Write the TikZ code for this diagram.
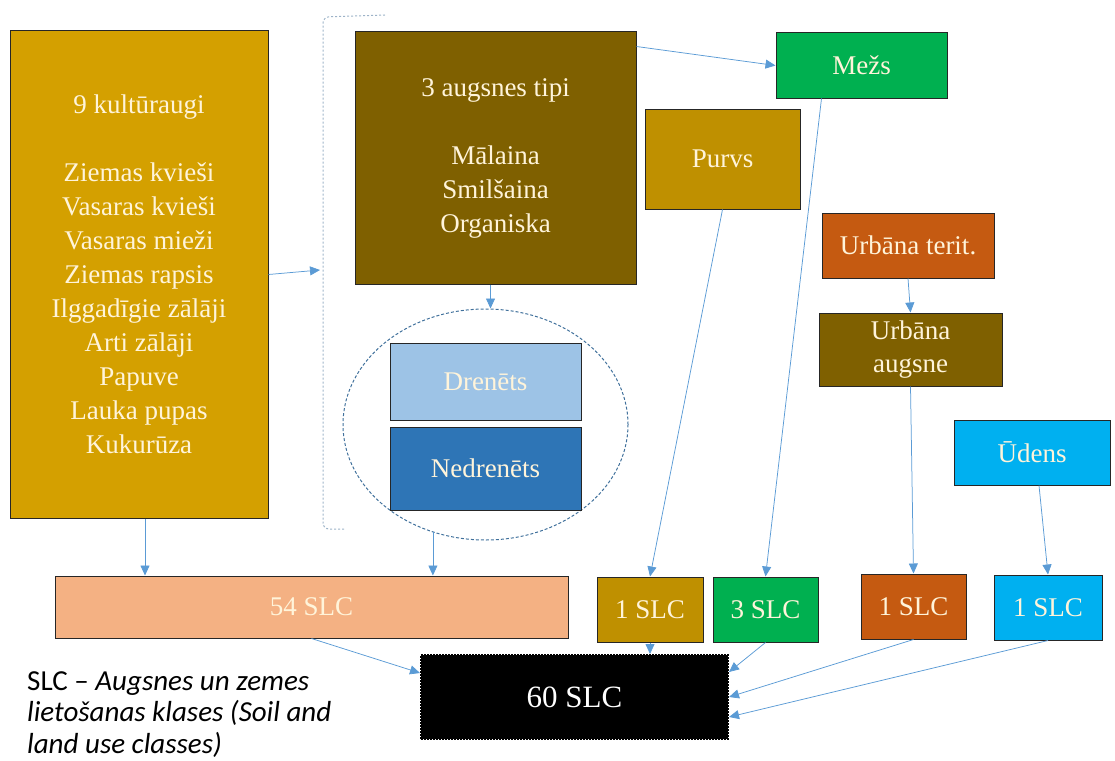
\documentclass[tikz,border=0pt]{standalone}
\usepackage{fontspec}
\setmainfont{Liberation Serif}
\newfontfamily\notefont{Carlito}
\usetikzlibrary{arrows.meta,shapes.geometric}

\definecolor{boxline}{HTML}{262626}
\definecolor{txt}{HTML}{FFF4DA}
\definecolor{arrowc}{HTML}{5B9BD5}
\definecolor{gold}{HTML}{D4A000}
\definecolor{darkgold}{HTML}{BF9000}
\definecolor{brown}{HTML}{7F6000}
\definecolor{green}{HTML}{00B050}
\definecolor{rust}{HTML}{C55A11}
\definecolor{sky}{HTML}{00B0F0}
\definecolor{lightblue}{HTML}{9DC3E6}
\definecolor{midblue}{HTML}{2E75B6}
\definecolor{peach}{HTML}{F4B183}
\definecolor{brkgray}{HTML}{9DB3C8}
\definecolor{ellgray}{HTML}{41719C}

\tikzset{box/.style={shape=rectangle, draw=boxline, line width=1pt, text=txt, align=center, inner sep=0pt, font=\fontsize{27}{34}\selectfont}}
\tikzset{every edge/.style={draw=arrowc, line width=0.75pt, -{Triangle[length=10pt,width=9pt]}}}

\begin{document}
\begin{tikzpicture}[x=1pt, y=-1pt]
  \useasboundingbox (0,0) rectangle (1115,760);

  % left column and soil types
  \node (crops) [box, fill=gold, minimum width=258pt, minimum height=487pt] at (139,274.5)
    {9 kultūraugi\\[34pt]Ziemas kvieši\\Vasaras kvieši\\Vasaras mieži\\Ziemas rapsis\\Ilggadīgie zālāji\\Arti zālāji\\Papuve\\Lauka pupas\\Kukurūza};
  \node (soil) [box, fill=brown, minimum width=281pt, minimum height=252pt] at (495.5,158)
    {3 augsnes tipi\\[34pt]Mālaina\\Smilšaina\\Organiska};

  \draw[brkgray, line width=1pt, dash pattern=on 2pt off 2pt, rounded corners=6pt]
    (385,15) -- (323,17) -- (323,529) -- (345,529);
  \coordinate (brk) at (320,270);

  \node (ell) [shape=ellipse, draw=ellgray, line width=1pt, dash pattern=on 3pt off 2pt,
    minimum width=285pt, minimum height=231pt, inner sep=0pt] at (485.5,424.5) {};
  \node (dren) [box, fill=lightblue, minimum width=191pt, minimum height=77pt] at (485.5,381.5) {Drenēts};
  \node (nedren) [box, fill=midblue, minimum width=191pt, minimum height=83pt] at (485.5,468.5) {Nedrenēts};

  % land use
  \node (mezs) [box, fill=green, minimum width=171pt, minimum height=65pt] at (861.5,65.5) {Mežs};
  \node (purvs) [box, fill=darkgold, minimum width=155pt, minimum height=100pt] at (722.5,159) {Purvs};
  \node (urbt) [box, fill=rust, minimum width=172pt, minimum height=65pt] at (908,245.5) {Urbāna terit.};
  \node (urba) [box, fill=brown, minimum width=183pt, minimum height=73pt, font=\fontsize{27}{33}\selectfont] at (910.5,349.5) {Urbāna\\augsne};
  \node (udens) [box, fill=sky, minimum width=156pt, minimum height=65pt] at (1032,452.5) {Ūdens};

  % classes
  \node (slc54) [box, fill=peach, minimum width=513pt, minimum height=62pt] at (311.5,607) {54 SLC};
  \node (slc1a) [box, fill=darkgold, minimum width=106pt, minimum height=65pt] at (650,609.5) {1 SLC};
  \node (slc3) [box, fill=green, minimum width=105pt, minimum height=65pt] at (765.5,609.5) {3 SLC};
  \node (slc1b) [box, fill=rust, minimum width=105pt, minimum height=65pt] at (913.5,606.5) {1 SLC};
  \node (slc1c) [box, fill=sky, minimum width=108pt, minimum height=65pt] at (1048,607.5) {1 SLC};
  \node (slc60) [box, fill=black, draw=black, line width=2pt, dash pattern=on 2pt off 1pt,
    minimum width=307pt, minimum height=84pt, text=white, font=\fontsize{31}{36}\selectfont] at (574.5,697) {60 SLC};

  \node (note) [anchor=north west, inner sep=0pt, align=left, font=\notefont\fontsize{29}{31.5}\selectfont] at (27,671)
    {SLC – \itshape Augsnes un zemes\\\itshape lietošanas klases (Soil and\\\itshape land use classes)};

  \path ([xshift=6pt]crops.south) edge ([xshift=6pt]crops.south |- slc54.north);
  \path (crops.east) edge (brk);
  \path ([xshift=-5pt]soil.south) edge ([xshift=-5pt]soil.south |- ell.north);
  \path (ell.244) edge (ell.244 |- slc54.north);
  \path ([yshift=-15pt]soil.north east) edge (mezs.west);

  \path ([xshift=-40pt]mezs.south) edge (slc3.north);
  \path (purvs.south) edge (slc1a.north);
  \path (urbt.south) edge (urba.north);
  \path (urba.south) edge (slc1b.north);
  \path ([xshift=7pt]udens.south) edge (slc1c.north);

  \path (slc54.south) edge ([yshift=24pt]slc60.west);
  \path (slc1a.south) edge (slc1a.south |- slc60.north);
  \path (slc3.south) edge ([yshift=25pt]slc60.east);
  \path (slc1b.south) edge (slc60.east);
  \path (slc1c.south) edge ([yshift=-20pt]slc60.east);
\end{tikzpicture}
\end{document}
